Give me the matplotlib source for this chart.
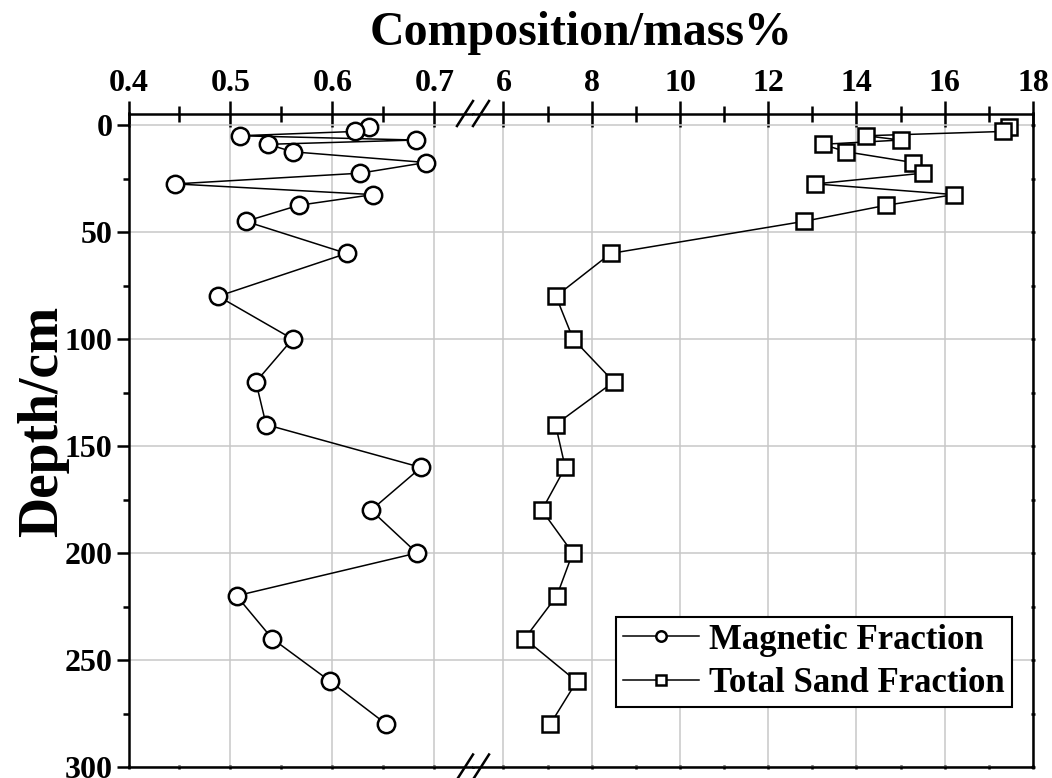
import matplotlib
matplotlib.use('Agg')
import matplotlib.pyplot as plt
from matplotlib.ticker import MultipleLocator
from matplotlib.lines import Line2D

# depth of samples (cm)
depth = [1, 3, 5, 7, 9, 12.5, 17.5, 22.5, 27.5, 32.5, 37.5, 45,
         60, 80, 100, 120, 140, 160, 180, 200, 220, 240, 260, 280]
# magnetic fraction (mass%)
magnetic = [0.636, 0.622, 0.509, 0.682, 0.537, 0.561, 0.692, 0.627, 0.446, 0.640, 0.567, 0.515,
            0.614, 0.488, 0.561, 0.525, 0.535, 0.687, 0.638, 0.683, 0.506, 0.541, 0.598, 0.653]
# total sand fraction (mass%)
sand = [17.46, 17.31, 14.21, 15.00, 13.23, 13.77, 15.28, 15.50, 13.07, 16.22, 14.67, 12.81,
        8.43, 7.19, 7.58, 8.50, 7.18, 7.40, 6.87, 7.57, 7.21, 6.48, 7.66, 7.06]

plt.rcParams['font.family'] = ['Liberation Serif', 'DejaVu Serif']
plt.rcParams['font.weight'] = 'bold'

W, H = 1052, 778
fig = plt.figure(figsize=(W / 100, H / 100), dpi=100)

# broken x axis: two axes side by side
x_left, x_brk, x_right = 128.5, 473, 1033
y_top, y_bot = 113.5, 767
ax1 = fig.add_axes([x_left / W, 1 - y_bot / H, (x_brk - x_left) / W, (y_bot - y_top) / H])
ax2 = fig.add_axes([x_brk / W, 1 - y_bot / H, (x_right - x_brk) / W, (y_bot - y_top) / H])

ax1.plot(magnetic, depth, '-o', color='k', lw=1.1, ms=12.5, mfc='white', mec='k', mew=1.8,
         label='Magnetic Fraction', zorder=3)
ax2.plot(sand, depth, '-s', color='k', lw=1.1, ms=11.5, mfc='white', mec='k', mew=1.8,
         label='Total Sand Fraction', zorder=3)

ax1.set_xlim(0.4, 0.738)
ax2.set_xlim(5.31, 18)
for ax in (ax1, ax2):
    ax.set_ylim(300, -5.4)
    ax.grid(True, color='#c8c8c8', lw=1.1)
    ax.set_axisbelow(True)
    for s in ax.spines.values():
        s.set_linewidth(1.8)
    ax.xaxis.set_ticks_position('both')
    ax.tick_params(axis='x', which='major', direction='inout', length=18.5, width=1.8,
                   labeltop=True, labelbottom=False, labelsize=23, pad=2)
    ax.tick_params(axis='x', which='minor', direction='inout', length=11, width=1.8)
    ax.yaxis.set_major_locator(MultipleLocator(50))
    ax.yaxis.set_minor_locator(MultipleLocator(25))

ax1.xaxis.set_major_locator(MultipleLocator(0.1))
ax1.xaxis.set_minor_locator(MultipleLocator(0.05))
ax2.xaxis.set_major_locator(MultipleLocator(2))
ax2.xaxis.set_minor_locator(MultipleLocator(1))

# very short ticks on the bottom spine
for ax in (ax1, ax2):
    for t in ax.xaxis.get_major_ticks() + ax.xaxis.get_minor_ticks():
        t.tick1line.set_markersize(3)

ax1.spines['right'].set_visible(False)
ax2.spines['left'].set_visible(False)
ax1.tick_params(axis='y', which='major', direction='out', length=8.5, width=1.8,
                labelsize=23, pad=3)
ax1.tick_params(axis='y', which='minor', direction='out', length=4.5, width=1.8)
ax2.tick_params(axis='y', which='both', left=False, labelleft=False,
                right=True, direction='inout', length=3, width=1.8)

# break marks
for yb in (y_top, y_bot):
    for xc in (465, 481):
        fig.add_artist(Line2D([(xc - 8) / W, (xc + 8) / W],
                              [1 - (yb + 12.5) / H, 1 - (yb - 12.5) / H],
                              color='k', lw=1.8, transform=fig.transFigure))

fig.text((x_left + x_right) / 2 / W, 1 - 33 / H, 'Composition/mass%',
         ha='center', va='center', fontsize=34.5, fontweight='bold')
fig.text(43 / W, 1 - 421 / H, 'Depth/cm', rotation=90,
         ha='center', va='center', fontsize=40, fontweight='bold')

h1, l1 = ax1.get_legend_handles_labels()
h2, l2 = ax2.get_legend_handles_labels()
leg = ax2.legend(h1 + h2, l1 + l2, loc='lower right', bbox_to_anchor=(0.9625, 0.092),
                 borderaxespad=0, fancybox=False, edgecolor='k', framealpha=1,
                 prop={'size': 25, 'weight': 'bold'}, markerscale=0.6,
                 handlelength=2.2, handletextpad=0.3, borderpad=0.2, labelspacing=0.3)
leg.get_frame().set_linewidth(1.5)

fig.savefig('out.png', dpi=100)
